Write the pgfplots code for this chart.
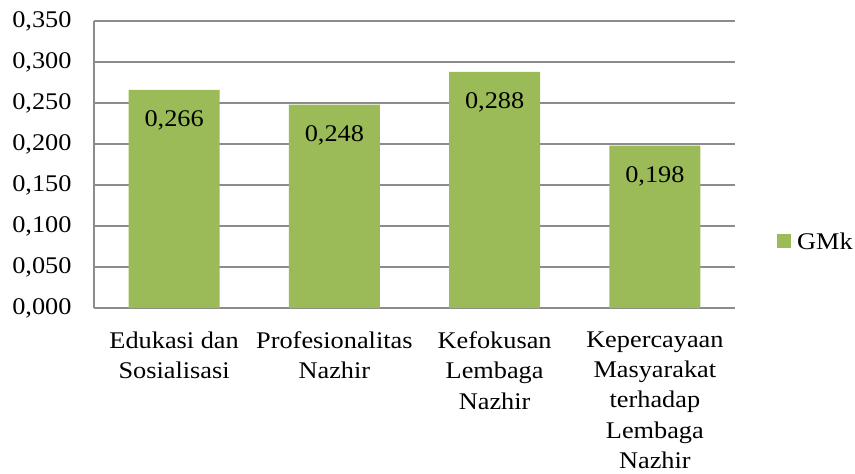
\documentclass[border=0pt]{standalone}
\usepackage{fontspec}
\setmainfont{Liberation Serif}[FakeStretch=1.1]
\usepackage{pgfplots}
\pgfplotsset{compat=1.18}
\definecolor{barg}{HTML}{9BBB59}
\definecolor{gridg}{HTML}{8C8C8C}
\begin{document}
\begin{tikzpicture}[font=\fontsize{24}{30.5}\selectfont]
\path[use as bounding box] (-94bp,-166bp) rectangle (761bp,308bp);
\begin{axis}[
  at={(0,0)}, anchor=south west,
  scale only axis, width=641bp, height=287bp,
  xmin=-0.5, xmax=3.5, ymin=0, ymax=0.35,
  xtick=data,
  xticklabels={{Edukasi dan\\Sosialisasi},{Profesionalitas\\Nazhir},{Kefokusan\\Lembaga\\Nazhir},{Kepercayaan\\Masyarakat\\terhadap\\Lembaga\\Nazhir}},
  xticklabel style={align=center, yshift=-20bp},
  ytick={0,0.05,...,0.35},
  /pgf/number format/fixed,
  /pgf/number format/fixed zerofill,
  /pgf/number format/precision=3,
  /pgf/number format/use comma,
  /pgf/number format/assume math mode=true,
  yticklabel style={xshift=-19bp},
  major tick length=0,
  axis x line*=bottom, axis y line*=left,
  axis line style={draw=gridg, line width=1.3bp, -},
  ymajorgrids, grid style={draw=gridg, line width=1.3bp},
  ybar, bar width=91bp,
  nodes near coords,
  nodes near coords style={anchor=north, inner sep=0pt, yshift=-21bp},
  legend style={draw=none, at={(1,0.23)}, anchor=west, xshift=42bp, font=\fontsize{24}{30.5}\selectfont, inner sep=0pt},
  legend image code/.code={\path (0bp,0bp) -- (18bp,0bp); \fill[barg] (0bp,-6bp) rectangle (14bp,8bp);},
  clip=false,
]
\addplot[fill=barg, draw=none] coordinates {(0,0.266) (1,0.248) (2,0.288) (3,0.198)};
\addlegendentry{GMk}
\end{axis}
\end{tikzpicture}
\end{document}
